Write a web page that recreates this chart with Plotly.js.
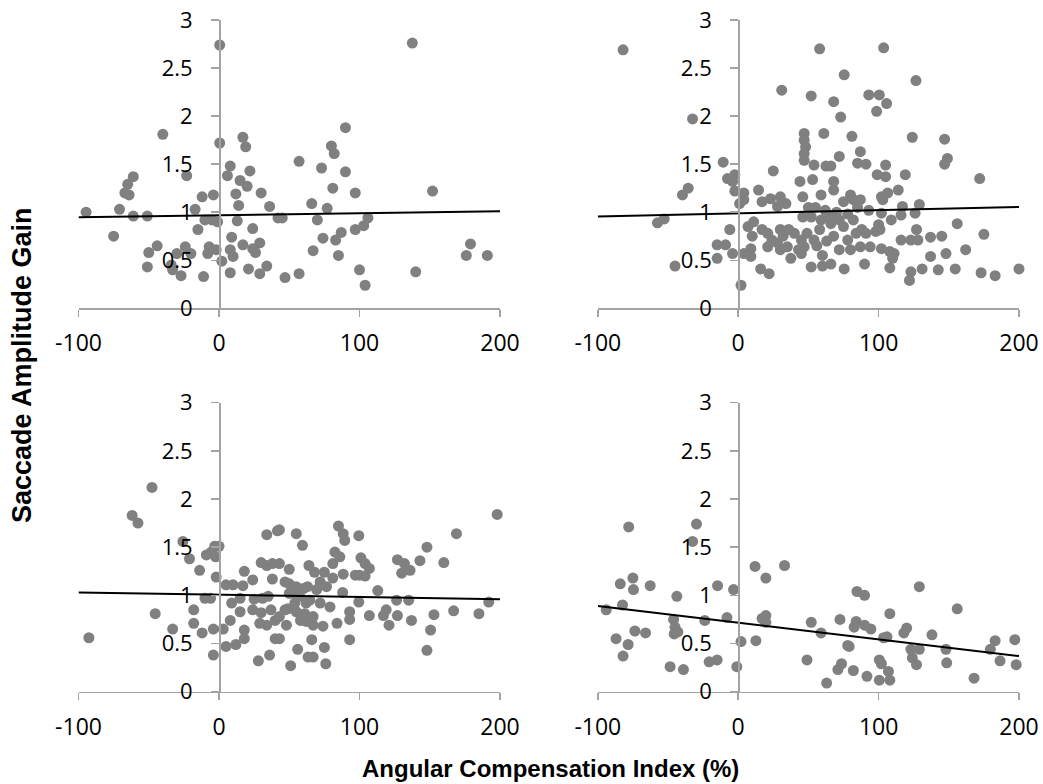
<!DOCTYPE html>
<html>
<head>
<meta charset="utf-8">
<script src="https://cdn.plot.ly/plotly-3.0.1.min.js"></script>
<style>html,body{margin:0;padding:0;background:#fff;}#chart{width:1043px;height:784px;}</style>
</head>
<body>
<div id="chart"></div>
<script>
// ---- Data ----
const xTickVals = [-100, 0, 100, 200];
const xTickLabels = ['-100', '0', '100', '200'];
const yTickVals = [0, 0.5, 1, 1.5, 2, 2.5, 3];
const yTickLabels = ['0', '0.5', '1', '1.5', '2', '2.5', '3'];
const xTitle = 'Angular Compensation Index (%)';
const yTitle = 'Saccade Amplitude Gain';

// Panel A (top-left)
const xA = [-94.6,-75,-70.8,-67,-65,-61,-64,-61,-51,-40,-50,-51,-44,-34,-30,-33,-27,-24,-20,-23,-17,-12,-15,-11,-4,-10,-5,-1,0.5,0.5,-7,-2,-8,2,6,8,12,14,13,9,8,10,8,17,19,15,20,22,24,17,24,29,26,21,29,34,30,36,42,45,47,57,57,66,67,70,73,77,80,82,90,90,81,97,74,83,87,85,97,103,106,100,104,137.6,140,152,179,176,191];
const yA = [1.00,0.75,1.03,1.20,1.29,1.37,1.18,0.96,0.96,1.81,0.58,0.43,0.65,0.45,0.57,0.40,0.34,0.64,0.57,1.38,1.03,1.16,0.82,0.33,1.18,0.92,0.92,0.90,2.74,1.72,0.64,0.61,0.57,0.49,1.38,1.48,1.19,1.07,0.91,0.74,0.61,0.54,0.37,1.78,1.68,1.33,1.27,1.43,0.83,0.66,0.62,0.68,0.58,0.41,0.36,0.44,1.20,1.06,0.94,0.94,0.32,0.36,1.53,1.09,0.60,0.92,1.46,1.04,1.69,1.61,1.88,1.42,1.25,1.20,0.73,0.71,0.79,0.55,0.82,0.86,0.94,0.40,0.24,2.76,0.38,1.22,0.67,0.55,0.55];

// Panel B (top-right)
const xB = [-82,-32.5,-10.7,31,-35.6,-39.7,-57.5,-52.7,-45,-7.6,-2.4,-4,-2.4,4,1,4,25,14.5,17,23,30,28,34,-6,-15,-9,-4,-15,4,9,7,11,10,9,17,21,24,21,28,32,30,36,35,30,16,22,2,44,46,47,47,48,47,47,40,45,37.5,43,52,
  58,103.6,75.5,126.6,52,68,93,100.5,105.7,98.6,73,61,81,87,72,54,62.5,66,85,91,105,99,105,119,124,147,149,147,172,53,68,114,106.5,102,103,68,59,80,87,75,82,93,102,117,129,126,116,59,66,75,82,52,46,109,100,101,98,156,175,88,91,49,54,47,45,68,78,87,94,80,72,102,108,111,110,116,123,128,127,137,145,148,137,162,60,66,75.5,90,108,123,122,131,142.5,154.6,173,183,200,
  55,62,70,65,58,63,72,85,78,50,56,84,60];
const yB = [2.69,1.97,1.52,2.27,1.25,1.18,0.89,0.93,0.44,1.35,1.39,1.32,1.22,1.20,1.09,1.13,1.43,1.23,1.11,1.14,1.16,1.06,1.09,0.82,0.66,0.66,0.57,0.52,0.57,0.54,0.85,0.90,0.75,0.62,0.82,0.78,0.71,0.64,0.68,0.75,0.82,0.82,0.64,0.61,0.41,0.36,0.24,1.32,1.16,1.82,1.75,1.68,1.61,1.54,0.78,0.71,0.52,0.61,0.43,
  2.70,2.71,2.43,2.37,2.21,2.15,2.22,2.22,2.13,2.05,1.99,1.82,1.79,1.63,1.58,1.49,1.48,1.48,1.51,1.50,1.49,1.39,1.37,1.39,1.78,1.76,1.56,1.50,1.35,1.34,1.32,1.23,1.20,1.16,1.13,1.23,1.18,1.18,1.13,1.11,1.13,1.02,0.99,1.06,1.08,0.99,0.97,0.92,0.88,0.85,0.92,0.95,0.95,0.92,0.87,0.82,0.80,0.88,0.77,0.82,0.78,0.78,0.71,0.64,0.57,0.75,0.71,0.64,0.64,0.61,0.61,0.62,0.59,0.57,0.52,0.71,0.71,0.71,0.82,0.74,0.75,0.57,0.54,0.61,0.44,0.46,0.41,0.46,0.42,0.38,0.29,0.41,0.40,0.41,0.37,0.34,0.41,
  1.05,1.02,1.00,0.95,0.82,0.70,0.92,1.05,0.98,1.05,0.65,0.78,0.55];

// Panel C (bottom-left)
const xC = [-92.6,-47.7,-61.8,-57.7,-45.4,-25.7,-21,-13.8,-9,-5.5,-3,0,-2.4,-2,-10,-6,-18,-18,-33,-12,-4,3,-4,5,12,18,8,5,10,17,24,18,9,15,25,31,35,15,24,30,37,18,29,34,40,30,34,38,38,34,41.6,40,28,36,49,48,55,62,54,63,
  43,55,59.4,85,88.4,89.5,99.5,82.5,86,81,64,50,43,101,104,107,104,100,97,88.4,127,132,136,130,143,148,160,169,198,68,75,81,72,76.5,69.5,60,55,50,47,88,113,99.5,126.4,135,79,72,64.6,57.5,50,47,43,55,61,67,58,62,67,74,84,93,93,107,117,119,127,137,121,153,167,185,192,43,56,63.4,67,66,75,76,51,93,150.6,148];
const yC = [0.56,2.12,1.83,1.75,0.81,1.56,1.38,1.26,1.42,1.45,1.51,1.51,1.40,1.19,0.97,0.97,0.85,0.71,0.65,0.61,0.65,0.65,0.38,0.47,0.49,0.55,0.74,1.11,1.11,1.10,1.16,1.25,0.92,0.97,0.96,0.97,0.99,0.83,0.85,0.82,0.85,0.64,0.71,0.69,0.74,1.34,1.31,1.33,1.17,1.63,1.67,0.55,0.32,0.38,0.86,0.69,1.00,0.92,0.92,1.09,
  1.68,1.64,1.52,1.72,1.64,1.57,1.62,1.45,1.40,1.33,1.31,1.27,1.33,1.39,1.33,1.28,1.20,1.21,1.21,1.22,1.37,1.33,1.26,1.23,1.36,1.50,1.34,1.64,1.84,1.24,1.24,1.18,1.14,1.09,1.06,1.07,1.09,1.12,1.14,1.03,1.05,0.93,0.95,0.95,0.88,0.92,0.95,0.99,1.02,0.85,0.78,0.83,0.81,0.78,0.74,0.73,0.69,0.68,0.71,0.83,0.75,0.79,0.79,0.85,0.79,0.74,0.69,0.80,0.84,0.81,0.93,0.55,0.44,0.36,0.36,0.54,0.46,0.29,0.27,0.54,0.64,0.43];

// Panel D (bottom-right)
const xD = [-94,-87,-78.4,-82,-82.4,-84,-75,-74.6,-62.7,-78,-73.6,-66,-43.7,-46,-45,-45.6,-43,-48.5,-39,-29.7,-32.5,-23.8,-20.7,-15,-14.7,-8,-3.3,-1,2,12,19.7,33,12.6,17,19.7,19.7,49,52,
  59,63,72.5,79,78,73.6,71,82,91.7,84.6,90,84,82.6,90,94.5,100.5,102,100.5,107,108,103.6,106,108,118,120,123,129,124,127,129,138,148,148.5,156,168,179.6,183,186.5,197,198];
const yD = [0.85,0.55,0.49,0.37,0.90,1.12,1.18,1.06,1.10,1.71,0.63,0.61,0.99,0.75,0.67,0.60,0.62,0.26,0.23,1.74,1.56,0.74,0.31,0.33,1.10,0.77,1.06,0.26,0.52,1.30,1.18,1.31,0.53,0.76,0.79,0.72,0.33,0.72,
  0.61,0.09,0.75,0.47,0.48,0.29,0.23,0.22,0.16,1.04,1.00,0.73,0.67,0.69,0.65,0.33,0.29,0.12,0.21,0.12,0.56,0.57,0.81,0.61,0.66,0.44,0.44,0.35,0.28,1.09,0.59,0.44,0.30,0.86,0.14,0.44,0.53,0.32,0.54,0.28];

// Linear trend lines (end values)
const trendX = [-100, 200];
const trendA = [0.947, 1.01];
const trendB = [0.954, 1.054];
const trendC = [1.03, 0.96];
const trendD = [0.89, 0.37];

// ---- Layout geometry ----
const xRange = [-100, 200];
const yRange = [0, 3];
const W = 1043, H = 784;
const xdL = [78.5 / W, 500 / W];
const xdR = [597.8 / W, 1019 / W];
const ydT = [1 - 308.3 / H, 1 - 20 / H];
const ydB = [1 - 691.7 / H, 1 - 402.7 / H];

const panels = [
  {x: xA, y: yA, t: trendA, xd: xdL, yd: ydT},
  {x: xB, y: yB, t: trendB, xd: xdR, yd: ydT},
  {x: xC, y: yC, t: trendC, xd: xdL, yd: ydB},
  {x: xD, y: yD, t: trendD, xd: xdR, yd: ydB}
];

const axisColor = '#a3a3a3';
const tickFontX = {family: 'Open Sans, Liberation Sans, sans-serif', size: 23, color: '#000'};
const tickFontY = {family: 'Open Sans, Liberation Sans, sans-serif', size: 22, color: '#000'};

const data = [];
const layout = {
  width: W, height: H,
  margin: {l: 0, r: 0, t: 0, b: 0, pad: 0},
  paper_bgcolor: '#fff', plot_bgcolor: 'rgba(0,0,0,0)',
  showlegend: false,
  annotations: [
    {text: '<b>' + yTitle + '</b>', xref: 'paper', yref: 'paper', x: 22 / W, y: 1 - 365 / H,
     textangle: -90, showarrow: false, xanchor: 'center', yanchor: 'middle',
     font: {family: 'Liberation Sans, Arial, sans-serif', size: 27, color: '#000'}},
    {text: '<b>' + xTitle + '</b>', xref: 'paper', yref: 'paper', x: 550 / W, y: 1 - 768 / H,
     showarrow: false, xanchor: 'center', yanchor: 'middle',
     font: {family: 'Liberation Sans, Arial, sans-serif', size: 24, color: '#000'}}
  ]
};

panels.forEach((p, i) => {
  const k = i === 0 ? '' : String(i + 1);
  data.push({
    type: 'scatter', mode: 'markers', x: p.x, y: p.y,
    xaxis: 'x' + k, yaxis: 'y' + k, cliponaxis: false,
    marker: {color: '#808080', size: 11, line: {width: 0}},
    hoverinfo: 'skip'
  });
  data.push({
    type: 'scatter', mode: 'lines', x: trendX, y: p.t,
    xaxis: 'x' + k, yaxis: 'y' + k, cliponaxis: false,
    line: {color: '#000', width: 2}, hoverinfo: 'skip'
  });
  const posY = p.xd[0] + (0 - xRange[0]) / (xRange[1] - xRange[0]) * (p.xd[1] - p.xd[0]);
  layout['xaxis' + k] = {
    domain: p.xd, range: xRange, anchor: 'y' + k,
    tickmode: 'array', tickvals: xTickVals, ticktext: xTickLabels,
    showline: true, linecolor: axisColor, linewidth: 1.5,
    ticks: 'outside', ticklen: 7, tickwidth: 1.5, tickcolor: axisColor,
    ticklabelstandoff: 7,
    showgrid: false, zeroline: false, tickfont: tickFontX, fixedrange: true
  };
  layout['yaxis' + k] = {
    domain: p.yd, range: yRange, anchor: 'free', position: posY,
    tickmode: 'array', tickvals: yTickVals, ticktext: yTickLabels,
    showline: true, linecolor: axisColor, linewidth: 1.5,
    ticks: 'outside', ticklen: 8, tickwidth: 1.5, tickcolor: axisColor,
    ticklabelstandoff: 14,
    showgrid: false, zeroline: false, tickfont: tickFontY, fixedrange: true
  };
});

Plotly.newPlot('chart', data, layout, {staticPlot: true, displayModeBar: false});
</script>
</body>
</html>
